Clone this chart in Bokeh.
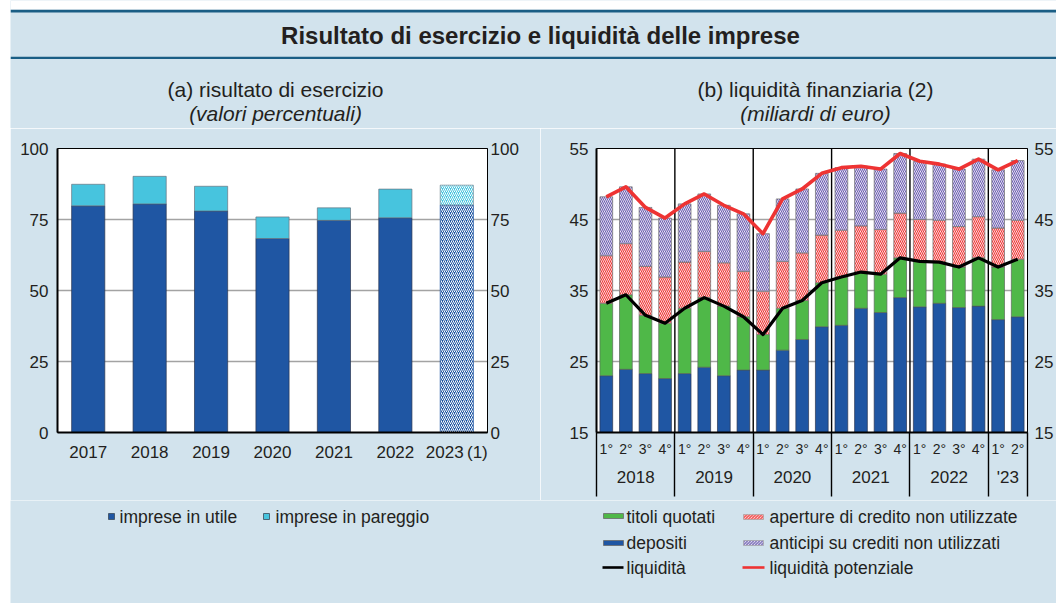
from bokeh.plotting import figure
from bokeh.models import (Range1d, FactorRange, Span, LinearAxis, FixedTicker,
                          ColumnDataSource, Spacer, CustomLabelingPolicy)
from bokeh.layouts import row, column
from bokeh.transform import stack
from bokeh.embed import file_html
from bokeh.resources import INLINE
from bokeh.core.properties import value

# ---------------- data ----------------
anni_a = ["2017", "2018", "2019", "2020", "2021", "2022", "2023"]
note_a = {"2023": "\u2009(1)"}
imprese_utile = [79.8, 80.5, 78.0, 68.3, 74.7, 75.6, 80.1]
imprese_pareggio = [7.6, 9.7, 8.7, 7.6, 4.4, 10.1, 7.0]

anni_b = ["2018", "2019", "2020", "2021", "2022", "'23"]
trimestri = ["1°", "2°", "3°", "4°"]
depositi = [23.0, 23.9, 23.3, 22.6, 23.3, 24.2, 23.0, 23.8, 23.8, 26.6, 28.1,
            29.9, 30.1, 32.5, 31.9, 34.0, 32.7, 33.2, 32.6, 32.8, 30.9, 31.3]
titoli_quotati = [10.2, 10.5, 8.2, 7.8, 9.2, 9.8, 9.8, 7.5, 5.0, 5.9, 5.5,
                  6.2, 6.8, 5.1, 5.4, 5.6, 6.4, 5.8, 5.7, 6.8, 7.4, 8.1]
aperture_credito = [6.7, 7.2, 6.9, 6.5, 6.5, 6.5, 6.1, 6.4, 6.1, 6.6, 6.7,
                    6.7, 6.6, 6.5, 6.3, 6.3, 5.9, 5.9, 5.7, 5.8, 5.5, 5.5]
anticipi_crediti = [8.3, 8.0, 8.3, 8.3, 8.2, 8.1, 8.1, 8.1, 8.1, 8.8, 9.0,
                    8.7, 8.8, 8.4, 8.5, 8.4, 8.2, 7.9, 8.1, 8.1, 8.2, 8.4]

# ---------------- style ----------------
BG = "#d2e3ed"
TXT = "#231f20"
FONT = "Liberation Sans"
BLUE = "#1f56a3"
CYAN = "#47c4de"
GREEN = "#4fb848"
RED = "#ee3333"
PURPLE = "#6a5bb0"
RULE = "#1a5e85"
GRID = "#a3a3a3"


def style_axis(ax, size="17px", standoff=8, lw=2):
    ax.major_label_text_font = FONT
    ax.major_label_text_font_size = size
    ax.major_label_text_color = TXT
    ax.major_tick_line_color = None
    ax.minor_tick_line_color = None
    ax.major_tick_in = 0
    ax.major_tick_out = 0
    ax.minor_tick_in = 0
    ax.minor_tick_out = 0
    ax.major_label_standoff = standoff
    ax.axis_line_color = "black"
    ax.axis_line_width = lw


W = 1046  # width right of the 10px white strip

# ---------------- header ----------------
HH = 128
hd = figure(width=W, height=HH, x_range=Range1d(0, W), y_range=Range1d(HH, 0),
            output_backend="svg", toolbar_location=None,
            x_axis_location=None, y_axis_location=None, min_border=0,
            outline_line_color=None, background_fill_color=BG, border_fill_color=BG)
hd.grid.visible = False
hd.quad(left=0, right=W, top=0, bottom=9.3, fill_color="white", line_color=None)
hd.quad(left=0, right=W, top=9.3, bottom=12.0, fill_color=RULE, line_color=None)
hd.quad(left=0, right=W, top=56.2, bottom=58.4, fill_color=RULE, line_color=None)
hd.text(x=[530], y=[35], text=["Risultato di esercizio e liquidità delle imprese"],
        text_font=value(FONT), text_font_style="bold", text_font_size="24px",
        text_align="center", text_baseline="middle", text_color=TXT)
hd.text(x=[265, 805], y=[89, 89],
        text=["(a) risultato di esercizio", "(b) liquidità finanziaria (2)"],
        text_font=value(FONT), text_font_size="21px",
        text_align="center", text_baseline="middle", text_color=TXT)
hd.text(x=[265, 805], y=[113, 113],
        text=["(valori percentuali)", "(miliardi di euro)"],
        text_font=value(FONT), text_font_size="21px", text_font_style="italic",
        text_align="center", text_baseline="middle", text_color=TXT)

# ---------------- panel (a) ----------------
cat_a = [a + note_a.get(a, "") for a in anni_a]
pa = figure(x_range=FactorRange(*cat_a), y_range=Range1d(0, 100),
            width=530, height=372, output_backend="svg", toolbar_location=None,
            min_border_left=47, min_border_right=53, min_border_top=20,
            min_border_bottom=65, background_fill_color="white",
            border_fill_color=BG, outline_line_color="black", outline_line_width=1)

src_a = ColumnDataSource(dict(x=cat_a[:-1], utile=imprese_utile[:-1],
                              pareggio=imprese_pareggio[:-1]))
src_ah = ColumnDataSource(dict(x=cat_a[-1:], utile=imprese_utile[-1:],
                               pareggio=imprese_pareggio[-1:]))
BW_A = 0.54
pa.vbar(x="x", width=BW_A, bottom=0, top="utile", source=src_a,
        fill_color=BLUE, line_color="#2a3550", line_width=0.7)
pa.vbar(x="x", width=BW_A, bottom=stack("utile"), top=stack("utile", "pareggio"),
        source=src_a, fill_color=CYAN, line_color="#6a7480", line_width=0.7)
pa.vbar(x="x", width=BW_A, bottom=0, top="utile", source=src_ah,
        fill_color=BLUE, hatch_pattern="/", hatch_color="white", hatch_scale=4,
        hatch_weight=1.0, line_color=BLUE, line_width=0.7)
pa.vbar(x="x", width=BW_A, bottom=stack("utile"), top=stack("utile", "pareggio"),
        source=src_ah, fill_color=CYAN, hatch_pattern="/", hatch_color="white",
        hatch_scale=4, hatch_weight=1.0, line_color="#7a8a95", line_width=0.7)

ticks_a = FixedTicker(ticks=[0, 25, 50, 75, 100])
pa.yaxis.ticker = ticks_a
style_axis(pa.yaxis[0], standoff=9, lw=2)
ra = LinearAxis(ticker=ticks_a)
style_axis(ra, standoff=3, lw=1)
pa.add_layout(ra, "right")
style_axis(pa.xaxis[0], standoff=10, lw=2)
pa.xgrid.visible = False
pa.ygrid.ticker = FixedTicker(ticks=[25, 50, 75])
pa.ygrid.grid_line_color = GRID
pa.ygrid.grid_line_width = 1.3

# ---------------- panel (b) ----------------
fattori = [(a, q) for a in anni_b for q in (trimestri if a != "'23" else trimestri[:2])]
liquidita = [d + t for d, t in zip(depositi, titoli_quotati)]
potenziale = [l + a + c for l, a, c in zip(liquidita, aperture_credito, anticipi_crediti)]

pb = figure(x_range=FactorRange(*fattori, factor_padding=0, group_padding=0,
                                subgroup_padding=0, range_padding=0),
            y_range=Range1d(15, 55),
            width=516, height=372, output_backend="svg", toolbar_location=None,
            min_border_left=56, min_border_right=27, min_border_top=19,
            min_border_bottom=65, background_fill_color="white",
            border_fill_color=BG, outline_line_color="black", outline_line_width=1)

src_b = ColumnDataSource(dict(x=fattori, depositi=depositi, titoli=titoli_quotati,
                              aperture=aperture_credito, anticipi=anticipi_crediti,
                              liq=liquidita, pot=potenziale))
BW_B = 0.65
pb.vbar(x="x", width=BW_B, bottom=0, top="depositi", source=src_b,
        fill_color=BLUE, line_color="#2a3550", line_width=0.7)
pb.vbar(x="x", width=BW_B, bottom=stack("depositi"), top=stack("depositi", "titoli"),
        source=src_b, fill_color=GREEN, line_color="#5a6a5a", line_width=0.7)
pb.vbar(x="x", width=BW_B, bottom=stack("depositi", "titoli"),
        top=stack("depositi", "titoli", "aperture"), source=src_b,
        fill_color="white", hatch_pattern="\\", hatch_color=RED, hatch_scale=4,
        hatch_weight=1.1, line_color="#6e6e6e", line_width=0.7)
pb.vbar(x="x", width=BW_B, bottom=stack("depositi", "titoli", "aperture"),
        top=stack("depositi", "titoli", "aperture", "anticipi"), source=src_b,
        fill_color="white", hatch_pattern="\\", hatch_color=PURPLE, hatch_scale=4,
        hatch_weight=1.1, line_color="#6e6e6e", line_width=0.7)
for loc in [4, 8, 12, 16, 20]:
    pb.add_layout(Span(location=loc, dimension="height", line_color="black",
                       line_width=1.4, level="underlay"))
pb.line(x="x", y="liq", source=src_b, line_color="black", line_width=3.2,
        line_join="round")
pb.line(x="x", y="pot", source=src_b, line_color=RED, line_width=3.6,
        line_join="round")

ticks_b = FixedTicker(ticks=[15, 25, 35, 45, 55])
pb.yaxis.ticker = ticks_b
style_axis(pb.yaxis[0], standoff=8, lw=2)
rb = LinearAxis(ticker=ticks_b)
style_axis(rb, standoff=7, lw=1)
pb.add_layout(rb, "right")
xb = pb.xaxis[0]
style_axis(xb, size="14px", standoff=8, lw=2)
xb.group_text_font = FONT
xb.group_text_font_size = "17px"
xb.group_text_font_style = "normal"
xb.group_text_color = TXT
xb.separator_line_color = None
pb.xgrid.visible = False
pb.ygrid.ticker = FixedTicker(ticks=[25, 35, 45])
pb.ygrid.grid_line_color = GRID
pb.ygrid.grid_line_width = 1.3

# year-boundary separators below the axis: ticks of a second, label-less axis
sep = LinearAxis(ticker=FixedTicker(ticks=[0, 4, 8, 12, 16, 20, 22]),
                 major_tick_in=57, major_tick_out=7, major_tick_line_color="black",
                 major_tick_line_width=1.4, axis_line_color=None,
                 minor_tick_line_color=None, major_label_text_font_size="1px",
                 major_label_standoff=0,
                 major_label_policy=CustomLabelingPolicy(code="return []"))
pb.add_layout(sep, "below")

# ---------------- legends ----------------
LH = 103
lg = figure(width=W, height=LH, x_range=Range1d(0, W), y_range=Range1d(LH, 0),
            output_backend="svg", toolbar_location=None,
            x_axis_location=None, y_axis_location=None, min_border=0,
            outline_line_color=None, background_fill_color=BG, border_fill_color=BG)
lg.grid.visible = False
lg.quad(left=[98, 253], right=[104, 259], top=[13, 13], bottom=[19, 19],
        fill_color=[BLUE, CYAN], line_color="#3a4a5a", line_width=0.8)
lg.text(x=[109, 265], y=[16, 16], text=["imprese in utile", "imprese in pareggio"],
        text_font=value(FONT), text_font_size="17.5px", text_color=TXT,
        text_align="left", text_baseline="middle")
lg.quad(left=[593, 593], right=[613, 613], top=[13, 40], bottom=[18, 45],
        fill_color=[GREEN, BLUE], line_color="#6a6a6a", line_width=0.8)
lg.quad(left=[733], right=[753], top=[14], bottom=[19], fill_color="white",
        hatch_pattern="\\", hatch_color=RED, hatch_scale=3, hatch_weight=1,
        line_color="#9a9a9a", line_width=0.6)
lg.quad(left=[733], right=[753], top=[40], bottom=[45], fill_color="white",
        hatch_pattern="\\", hatch_color=PURPLE, hatch_scale=3, hatch_weight=1,
        line_color="#9a9a9a", line_width=0.6)
lg.segment(x0=[592], x1=[613], y0=[67], y1=[67], line_color="black", line_width=2.6)
lg.segment(x0=[732], x1=[754], y0=[67], y1=[67], line_color=RED, line_width=2.6)
lg.text(x=[616, 616, 616], y=[16, 42, 67], text=["titoli quotati", "depositi", "liquidità"],
        text_font=value(FONT), text_font_size="17.5px", text_color=TXT,
        text_align="left", text_baseline="middle")
lg.text(x=[759, 759, 759], y=[16, 42, 67],
        text=["aperture di credito non utilizzate", "anticipi su crediti non utilizzati",
              "liquidità potenziale"],
        text_font=value(FONT), text_font_size="17.5px", text_color=TXT,
        text_align="left", text_baseline="middle")

body = column(hd, row(pa, pb, spacing=0), lg, spacing=0)
layout = row(Spacer(width=10, height=603), body, spacing=0)

open("out.html", "w").write(file_html(layout, INLINE))
